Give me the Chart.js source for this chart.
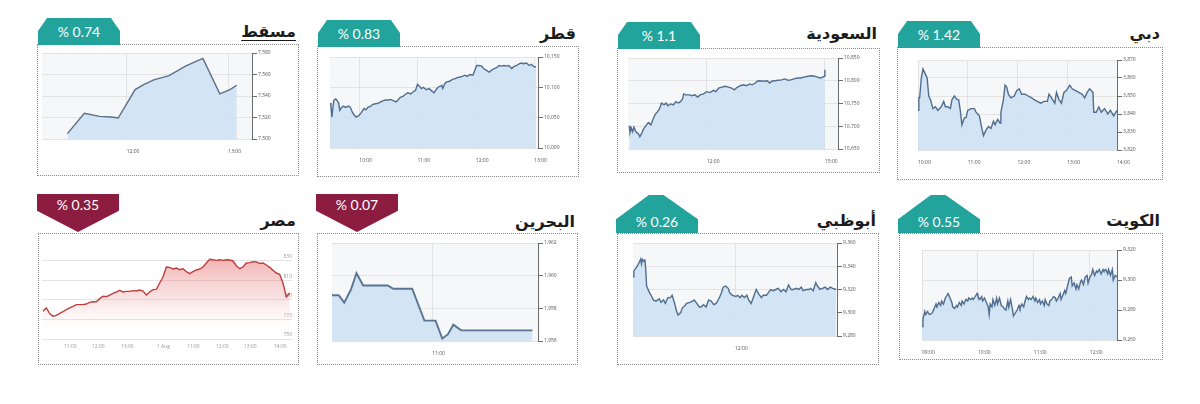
<!DOCTYPE html>
<html lang="ar">
<head>
<meta charset="utf-8">
<title>أسواق الخليج</title>
<script src="https://cdn.jsdelivr.net/npm/chart.js@4.4.1/dist/chart.umd.min.js"></script>
<style>
  body { margin: 0; width: 1200px; height: 404px; background: #fff; position: relative; overflow: hidden; }
  .panel { position: absolute; border: 1px dotted #8a8a8a; box-sizing: border-box; }
  .title { position: absolute; font-family: "DejaVu Sans", sans-serif; font-weight: bold; font-size: 16px;
           line-height: 22px; color: #1c1c1c; direction: rtl; white-space: nowrap; }
  .title.ul { text-decoration: underline; text-underline-offset: 3px; }
  .badge { position: absolute; width: 82px; color: #fff; font-family: Lato, "Open Sans", sans-serif;
           font-size: 14px; text-align: center; box-sizing: border-box; }
  .badge.up { background: #22a39b; }
  .badge.down { background: #8c1d40; }
  canvas { position: absolute; }
</style>
</head>
<body>
<script>
// values

// Dubai
const dubaiTimes = [
  "10:00","10:01","10:02","10:04","10:06","10:08","10:11","10:13","10:15","10:18",
  "10:21","10:24","10:28","10:31","10:33","10:36","10:39","10:41","10:44","10:47",
  "10:49","10:51","10:53","10:56","10:58","11:00","11:04","11:08","11:10","11:14",
  "11:17","11:19","11:22","11:25","11:28","11:31","11:33","11:36","11:39","11:40",
  "11:43","11:45","11:47","11:49","11:52","11:56","11:59","12:02","12:05","12:09",
  "12:13","12:17","12:20","12:24","12:28","12:32","12:36","12:38","12:41","12:45",
  "12:47","12:50","12:53","12:56","12:59","13:03","13:06","13:10","13:14","13:18",
  "13:21","13:24","13:27","13:31","13:32","13:35","13:38","13:41","13:45","13:49",
  "13:52","13:56","14:00"
];
const dubaiValues = [
  3842,3849,3849,3860,3865,3863,3860,3850,3848,3843,
  3844,3842,3844,3847,3844,3844,3843,3848,3850,3848,
  3848,3842,3834,3838,3838,3842,3843,3843,3841,3839,
  3832,3828,3831,3833,3832,3836,3834,3837,3835,3841,
  3848,3856,3855,3851,3849,3850,3853,3854,3851,3851,
  3850,3849,3848,3847,3846,3847,3847,3851,3849,3846,
  3852,3848,3846,3852,3853,3856,3854,3853,3852,3851,
  3849,3852,3854,3852,3841,3841,3844,3841,3843,3840,
  3842,3839,3842
];
const dubaiXTicks = ["10:00","11:00","12:00","13:00","14:00"];
const dubaiYTicks = [3820, 3830, 3840, 3850, 3860, 3870];

// Saudi
const saudiTimes = [
  "10:02","10:03","10:05","10:07","10:09","10:12","10:16","10:18","10:21","10:23",
  "10:27","10:31","10:35","10:38","10:41","10:45","10:48","10:51","10:55","10:58",
  "11:01","11:05","11:09","11:13","11:17","11:20","11:23","11:25","11:28","11:34",
  "11:37","11:42","11:46","11:50","11:55","12:00","12:05","12:10","12:14","12:18",
  "12:23","12:28","12:33","12:38","12:42","12:46","12:51","12:56","13:01","13:05",
  "13:09","13:14","13:17","13:21","13:26","13:32","13:36","13:39","13:44","13:49",
  "13:54","13:59","14:04","14:08","14:13","14:18","14:23","14:28","14:34","14:39",
  "14:44","14:49","14:53","14:57","14:59","15:00"
];
const saudiValues = [
  10701,10686,10696,10688,10698,10688,10683,10677,10685,10692,
  10701,10708,10703,10715,10725,10732,10738,10751,10747,10751,
  10745,10749,10747,10754,10751,10754,10760,10771,10769,10769,
  10767,10769,10764,10769,10771,10776,10774,10779,10776,10784,
  10786,10788,10786,10784,10780,10785,10789,10791,10789,10793,
  10791,10795,10799,10800,10799,10800,10795,10799,10800,10801,
  10802,10804,10801,10802,10804,10806,10806,10808,10810,10811,
  10810,10808,10806,10808,10810,10824
];
const saudiXTicks = ["12:00","15:00"];
const saudiYTicks = [10650, 10700, 10750, 10800, 10850];

// Qatar
const qatarTimes = [
  "09:30","09:31","09:32","09:33","09:34","09:36","09:37","09:39","09:40","09:42",
  "09:44","09:46","09:49","09:51","09:53","09:55","09:57","10:00","10:02","10:05",
  "10:07","10:09","10:12","10:14","10:17","10:20","10:22","10:25","10:27","10:30",
  "10:32","10:35","10:38","10:40","10:42","10:45","10:48","10:50","10:53","10:55",
  "10:58","11:00","11:02","11:04","11:06","11:09","11:12","11:14","11:17","11:20",
  "11:22","11:25","11:26","11:28","11:30","11:33","11:36","11:38","11:41","11:44",
  "11:46","11:49","11:51","11:54","11:57","11:59","12:01","12:03","12:06","12:08",
  "12:11","12:14","12:16","12:19","12:21","12:24","12:26","12:29","12:32","12:34",
  "12:37","12:39","12:42","12:45","12:47","12:49","12:52","12:55","12:57","13:00",
  "13:02"
];
const qatarValues = [
  10074,10069,10051,10067,10079,10081,10079,10074,10062,10067,
  10069,10067,10069,10067,10059,10054,10051,10054,10058,10065,
  10063,10067,10069,10072,10073,10074,10076,10078,10079,10079,
  10080,10078,10076,10079,10083,10085,10089,10091,10089,10092,
  10095,10105,10102,10098,10100,10096,10098,10095,10091,10098,
  10101,10103,10098,10106,10109,10110,10113,10114,10116,10117,
  10118,10120,10118,10121,10120,10128,10136,10136,10135,10131,
  10128,10125,10128,10131,10132,10136,10135,10136,10135,10136,
  10131,10134,10136,10139,10140,10139,10140,10136,10138,10134,
  10134
];
const qatarXTicks = ["10:00","11:00","12:00","13:00"];
const qatarYTicks = [10000, 10050, 10100, 10150];

// Muscat
const muscatTimes = ["11:25","11:35","11:44","11:51","11:55","12:05","12:10","12:16","12:25","12:35","12:45","12:55","13:01","13:05"];
const muscatValues = [7505, 7524, 7521, 7520.5, 7519.5, 7546, 7550.5, 7555, 7559, 7568, 7575, 7542, 7546, 7550];
const muscatXTicks = ["12:00","13:00"];
const muscatYTicks = [7500, 7520, 7540, 7560, 7580];

// Kuwait
const kuwaitTimes = [
  "09:00","09:01","09:03","09:04","09:06","09:08","09:11","09:13","09:15","09:16",
  "09:18","09:20","09:21","09:23","09:25","09:26","09:28","09:30","09:32","09:33",
  "09:35","09:37","09:38","09:40","09:42","09:43","09:45","09:47","09:49","09:50",
  "09:52","09:54","09:55","09:57","09:59","10:00","10:02","10:04","10:05","10:07",
  "10:09","10:11","10:12","10:13","10:15","10:16","10:18","10:20","10:21","10:23",
  "10:25","10:27","10:28","10:30","10:32","10:33","10:35","10:37","10:38","10:40",
  "10:42","10:44","10:45","10:47","10:49","10:50","10:52","10:54","10:55","10:57",
  "10:59","11:01","11:02","11:04","11:06","11:07","11:09","11:11","11:12","11:14",
  "11:16","11:17","11:19","11:21","11:23","11:24","11:26","11:28","11:29","11:31",
  "11:33","11:34","11:36","11:38","11:40","11:41","11:43","11:45","11:46","11:48",
  "11:50","11:51","11:53","11:55","11:57","11:58","12:00","12:02","12:03","12:05",
  "12:07","12:08","12:10","12:12","12:14","12:15","12:17","12:19","12:20","12:22",
  "12:24","12:25","12:27","12:29"
];
const kuwaitValues = [
  9269,9274,9279,9277,9279,9277,9278,9281,9284,9282,
  9285,9283,9286,9284,9288,9289,9291,9288,9285,9282,
  9281,9283,9282,9285,9283,9286,9284,9287,9286,9288,
  9287,9288,9287,9289,9291,9289,9287,9289,9286,9288,
  9285,9282,9277,9284,9282,9287,9283,9288,9284,9288,
  9283,9282,9281,9280,9286,9282,9287,9280,9276,9278,
  9280,9283,9281,9284,9282,9285,9289,9287,9288,9287,
  9289,9286,9288,9285,9287,9284,9286,9283,9287,9284,
  9283,9286,9287,9289,9288,9286,9288,9291,9287,9290,
  9293,9291,9296,9301,9302,9296,9298,9294,9297,9294,
  9299,9300,9297,9302,9303,9298,9302,9304,9307,9303,
  9306,9305,9307,9304,9307,9306,9307,9304,9307,9303,
  9307,9300,9303,9302
];
const kuwaitXTicks = ["09:00","10:00","11:00","12:00"];
const kuwaitYTicks = [9260, 9280, 9300, 9320];

// Abu Dhabi
const abuDhabiTimes = [
  "10:00","10:01","10:03","10:05","10:07","10:09","10:10","10:11","10:13","10:14",
  "10:15","10:16","10:19","10:22","10:24","10:27","10:31","10:33","10:36","10:38",
  "10:41","10:44","10:46","10:49","10:51","10:53","10:56","10:58","11:01","11:03",
  "11:07","11:10","11:12","11:15","11:18","11:20","11:23","11:26","11:29","11:32",
  "11:35","11:38","11:41","11:44","11:46","11:49","11:52","11:54","11:57","12:01",
  "12:03","12:06","12:08","12:11","12:14","12:16","12:19","12:22","12:25","12:28",
  "12:31","12:33","12:37","12:40","12:42","12:45","12:48","12:51","12:54","12:57",
  "13:00","13:03","13:06","13:09","13:12","13:15","13:18","13:20","13:24","13:27",
  "13:29","13:32","13:35","13:37","13:40","13:43","13:46","13:49","13:52","13:55",
  "13:59"
];
const abuDhabiValues = [
  9331,9336,9338,9340,9343,9346,9342,9346,9344,9346,
  9337,9323,9318,9314,9311,9310,9312,9309,9311,9308,
  9313,9313,9315,9308,9302,9298,9300,9304,9306,9308,
  9309,9310,9311,9308,9305,9305,9307,9305,9311,9310,
  9307,9308,9312,9317,9322,9323,9321,9317,9315,9314,
  9315,9313,9315,9313,9315,9311,9308,9314,9320,9316,
  9313,9315,9315,9318,9320,9319,9320,9321,9318,9320,
  9318,9324,9320,9320,9321,9320,9322,9319,9320,9320,
  9321,9319,9326,9323,9320,9321,9322,9320,9322,9321,
  9320
];
const abuDhabiXTicks = ["12:00"];
const abuDhabiYTicks = [9280, 9300, 9320, 9340, 9360];

// Bahrain
const bahrainTimes = ["09:30","09:36","09:41","09:47","09:52","09:58","10:20","10:25","10:42","10:53","11:03","11:09","11:14","11:19","11:26","12:30"];
const bahrainValues = [1958.8, 1958.8, 1958.35, 1959.15, 1960.15, 1959.4, 1959.4, 1959.2, 1959.2, 1957.25, 1957.25, 1956.15, 1956.4, 1957.0, 1956.65, 1956.65];
const bahrainXTicks = ["11:00"];
const bahrainYTicks = [1956, 1958, 1960, 1962];

// Egypt (ordinal axis: one slot per reading)
const egyptValues = [
  778.3,781.7,775.9,773.2,774.2,776.2,777.9,780,781.7,783.4,
  785.1,785.1,785.1,785.7,787.4,788.1,788.1,791.2,793.6,793.2,
  794.9,796.6,798,799.7,798,798.7,798.7,799.4,799,800,
  799,794.9,798,800.4,800.7,807.2,813.3,823.5,823.2,821.5,
  822.5,820.8,821.8,818.8,816.7,818.8,820.5,821.5,823.5,827.6,
  831.4,831,830.3,831,830.3,831,830.7,829.7,824.9,821.8,
  823.5,827.6,828,829,828.6,827.3,827.6,825.6,823.2,820.1,
  817.4,816,807.2,792.9,797
];
const egyptXTicks = ["11:00","12:00","13:00","1 Aug","11:00","12:00","13:00","14:00"];
const egyptXTickSlots = [8.2, 16.6, 25.3, 36.1, 45.1, 53.8, 62.2, 71.2];
const egyptYTicks = [750, 770, 790, 810, 830];

// layout of the eight boxes (page pixels)
const panels = [
  { title: "مسقط", change: "% 0.74", up: true, underline: true, row: 1,
    box: [37, 44, 299, 176], plot: [41.7, 53.3, 251.7, 139.3], titleY: 33,
    times: muscatTimes, values: muscatValues, xTicks: muscatXTicks, yTicks: muscatYTicks,
    xRange: ["11:10", "13:14"], yRange: [7500, 7580], line: "#5b6f87" },
  { title: "قطر", change: "% 0.83", up: true, row: 1,
    box: [317, 46, 579, 177], plot: [330.2, 56.7, 537.7, 147.7], titleY: 35,
    times: qatarTimes, values: qatarValues, xTicks: qatarXTicks, yTicks: qatarYTicks,
    xRange: ["09:30", "13:04"], yRange: [10000, 10150] },
  { title: "السعودية", change: "% 1.1", up: true, row: 1,
    box: [617, 48, 880, 173], plot: [628, 58.3, 837.7, 149], titleY: 35,
    times: saudiTimes, values: saudiValues, xTicks: saudiXTicks, yTicks: saudiYTicks,
    xRange: ["10:00", "15:20"], yRange: [10650, 10850] },
  { title: "دبي", change: "% 1.42", up: true, row: 1,
    box: [897, 47, 1163, 180], plot: [908, 60, 1117, 150], titleY: 35,
    times: dubaiTimes, values: dubaiValues, xTicks: dubaiXTicks, yTicks: dubaiYTicks,
    xRange: ["10:00", "14:00"], yRange: [3820, 3870] },
  { title: "مصر", change: "% 0.35", up: false, row: 2, ordinal: true,
    box: [38, 233, 299, 365], plot: [41.7, 246, 291.7, 339.3], titleY: 222,
    values: egyptValues, xTicks: egyptXTicks, xSlots: egyptXTickSlots, yTicks: egyptYTicks,
    xRange: [-0.3, 74.7], yRange: [750, 845] },
  { title: "البحرين", change: "% 0.07", up: false, row: 2,
    box: [317, 233, 578, 365], plot: [331.7, 243.3, 537.7, 341.7], titleY: 223,
    times: bahrainTimes, values: bahrainValues, xTicks: bahrainXTicks, yTicks: bahrainYTicks,
    xRange: ["09:30", "12:35"], yRange: [1956, 1962], lineWidth: 1.9, line: "#5a7491" },
  { title: "أبوظبي", change: "% 0.26", up: true, row: 2,
    box: [617, 233, 879, 365], plot: [633.3, 243.3, 837.7, 336], titleY: 222,
    times: abuDhabiTimes, values: abuDhabiValues, xTicks: abuDhabiXTicks, yTicks: abuDhabiYTicks,
    xRange: ["10:00", "14:00"], yRange: [9280, 9360] },
  { title: "الكويت", change: "% 0.55", up: true, row: 2,
    box: [899, 233, 1163, 360], plot: [911.7, 250, 1116.7, 340], titleY: 222,
    times: kuwaitTimes, values: kuwaitValues, xTicks: kuwaitXTicks, yTicks: kuwaitYTicks,
    xRange: ["09:00", "12:29"], yRange: [9260, 9320] }
];

const PAD_TOP = 6;
const AXIS_H = 20;
const TICK_FONT = { family: "'Open Sans', sans-serif", size: 5 };

function toMin(t) {
  if (typeof t === "number") return t;
  const [h, m] = t.split(":").map(Number);
  return h * 60 + m;
}

// light grey behind the plot area
const plotBg = {
  id: "plotBg",
  beforeDraw(chart, args, opts) {
    if (!opts.color) return;
    const { ctx, chartArea: a } = chart;
    ctx.save();
    ctx.fillStyle = opts.color;
    ctx.fillRect(a.left, a.top, a.width, a.height);
    ctx.restore();
  }
};

function addDiv(cls, css, text) {
  const d = document.createElement("div");
  d.className = cls;
  Object.assign(d.style, css);
  if (text) d.textContent = text;
  document.body.appendChild(d);
  return d;
}

function drawPanel(p) {
  const [bl, bt, br, bb] = p.box;
  addDiv("panel", { left: bl + "px", top: bt + "px", width: (br - bl) + "px", height: (bb - bt) + "px" });

  // badge with the daily change
  let badgeCss;
  if (p.row === 1) {
    badgeCss = { left: (bl + 1) + "px", top: (bt - 26) + "px", height: "27px", lineHeight: "28px",
      clipPath: "polygon(0 100%, 0 48%, 11% 0, 89% 0, 100% 48%, 100% 100%)" };
  } else if (p.up) {
    badgeCss = { left: (bl - 1) + "px", top: "195px", height: "38px", lineHeight: "20px", paddingTop: "17px",
      clipPath: "polygon(0 100%, 0 64%, 40% 0, 58% 0, 100% 64%, 100% 100%)" };
  } else {
    badgeCss = { left: (bl - 1) + "px", top: "194px", height: "38px", lineHeight: "22px",
      clipPath: "polygon(0 0, 100% 0, 100% 44%, 50% 100%, 0 44%)" };
  }
  addDiv("badge " + (p.up ? "up" : "down"), badgeCss, p.change);

  const t = addDiv("title" + (p.underline ? " ul" : ""), { right: (1200 - br + 3) + "px", top: (p.titleY - 12) + "px" }, p.title);
  t.dir = "rtl";

  // chart canvas: left edge = plot left, right axis gets a fixed width
  const [L, T, R, B] = p.plot;
  const axisW = p.ordinal ? 0 : 30;
  const canvas = document.createElement("canvas");
  canvas.width = Math.round(R - L) + axisW;
  canvas.height = Math.round(B - T) + PAD_TOP + AXIS_H;
  canvas.style.left = Math.round(L) + "px";
  canvas.style.top = (Math.round(T) - PAD_TOP) + "px";
  document.body.appendChild(canvas);

  const points = p.ordinal
    ? p.values.map((v, i) => ({ x: i, y: v }))
    : p.times.map((tm, i) => ({ x: toMin(tm), y: p.values[i] }));
  const xTickValues = p.ordinal ? p.xSlots : p.xTicks.map(toMin);

  const blueFill = "rgba(203, 224, 244, 0.8)";
  const redFill = (ctx) => {
    const a = ctx.chart.chartArea;
    if (!a) return undefined;
    const g = ctx.chart.ctx.createLinearGradient(0, a.top, 0, a.bottom);
    g.addColorStop(0, "rgba(228, 96, 96, 0.6)");
    g.addColorStop(0.55, "rgba(240, 170, 170, 0.35)");
    g.addColorStop(1, "rgba(255, 255, 255, 0)");
    return g;
  };

  new Chart(canvas, {
    type: "line",
    data: {
      datasets: [{
        data: points,
        borderColor: p.ordinal ? "#c23d3d" : (p.line || "#4f6d8e"),
        borderWidth: p.lineWidth || 1.4,
        backgroundColor: p.ordinal ? redFill : blueFill,
        fill: "start",
        pointRadius: 0,
        tension: 0
      }]
    },
    options: {
      responsive: false,
      animation: false,
      layout: { padding: { top: PAD_TOP, left: 0, right: 0, bottom: 0 } },
      plugins: {
        legend: { display: false },
        tooltip: { enabled: false },
        plotBg: { color: p.ordinal ? null : "#f6f7f9" }
      },
      scales: {
        x: {
          type: "linear",
          min: toMin(p.xRange[0]),
          max: toMin(p.xRange[1]),
          afterBuildTicks: (s) => { s.ticks = xTickValues.map((v) => ({ value: v })); },
          afterFit: (s) => { s.height = AXIS_H; },
          border: { display: false },
          grid: { display: !p.ordinal, color: "#e3e3e3", drawTicks: false },
          ticks: {
            align: p.ordinal ? "center" : "start",
            padding: p.ordinal ? 5 : 10,
            autoSkip: false,
            maxRotation: 0,
            font: TICK_FONT,
            color: p.ordinal ? "#9a9a9a" : "#555",
            callback: (v, i) => p.xTicks[i]
          }
        },
        y: {
          position: "right",
          min: p.yRange[0],
          max: p.yRange[1],
          afterBuildTicks: (s) => { s.ticks = p.yTicks.map((v) => ({ value: v })); },
          afterFit: (s) => { s.width = axisW; },
          border: { display: !p.ordinal, color: "#6b6b6b", width: 1 },
          grid: { color: "#e3e3e3", tickColor: "#6b6b6b", tickLength: 5, drawTicks: !p.ordinal },
          ticks: {
            mirror: !!p.ordinal,
            padding: p.ordinal ? 0 : 1,
            labelOffset: p.ordinal ? -4 : 0,
            font: TICK_FONT,
            color: p.ordinal ? "#9a9a9a" : "#555",
            callback: (v) => v.toLocaleString("en-US")
          }
        }
      }
    },
    plugins: [plotBg]
  });
}

panels.forEach(drawPanel);
</script>
</body>
</html>
